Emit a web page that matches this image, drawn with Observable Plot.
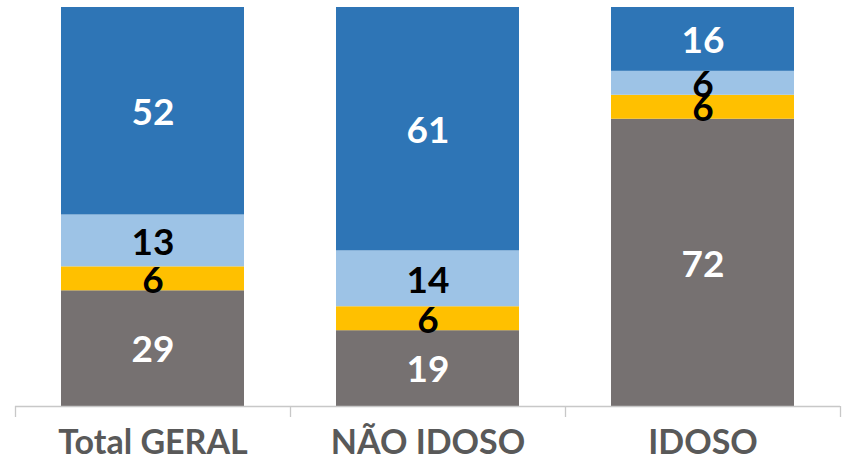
<!DOCTYPE html>
<html>
<head>
<meta charset="utf-8">
<script src="https://cdn.jsdelivr.net/npm/d3@7"></script>
<script src="https://cdn.jsdelivr.net/npm/@observablehq/plot@0.6"></script>
<style>
  html, body { margin: 0; padding: 0; background: #fff; }
  #chart svg { display: block; }
</style>
</head>
<body>
<div id="chart"></div>
<script>
const categories = ["Total GERAL", "NÃO IDOSO", "IDOSO"];
const series = ["s1", "s2", "s3", "s4"]; // bottom to top
const values = {
  s1: [29, 19, 72],
  s2: [6, 6, 6],
  s3: [13, 14, 6],
  s4: [52, 61, 16]
};
const colors = ["#767171", "#FFC000", "#9DC3E6", "#2E75B6"];
const labelColors = ["#ffffff", "#000000", "#000000", "#ffffff"];

const data = [];
series.forEach((s, si) => {
  categories.forEach((c, ci) => {
    data.push({cat: c, series: s, value: values[s][ci]});
  });
});

const W = 846, H = 462;
const mL = 15, mR = 6, mT = 7, mB = 56;
const step = (W - mL - mR) / categories.length;
const tickLen = 11;
const pxPerUnit = (H - mT - mB) / 100;

const chart = Plot.plot({
  width: W,
  height: H,
  marginLeft: mL,
  marginRight: mR,
  marginTop: mT,
  marginBottom: mB,
  style: {fontFamily: "Lato, sans-serif", background: "#fff"},
  x: {domain: categories, paddingInner: 0.335, paddingOuter: 0.1675, label: null},
  y: {domain: [0, 100], axis: null},
  color: {domain: series, range: colors},
  marks: [
    Plot.barY(data, {x: "cat", y: "value", fill: "series", z: "series"}),
    Plot.text(data, Plot.stackY({
      x: "cat", y: "value", z: "series",
      text: d => String(d.value),
      fill: d => labelColors[series.indexOf(d.series)],
      fontSize: 37, fontWeight: "bold", dy: 2
    })),
    Plot.ruleY([0], {stroke: "#C8C8C8", strokeWidth: 1.3}),
    Plot.ruleX(categories, {x: d => d, dx: -step / 2, y1: 0, y2: -tickLen / pxPerUnit, stroke: "#C8C8C8", strokeWidth: 1.3, clip: false}),
    Plot.ruleX(categories.slice(-1), {x: d => d, dx: step / 2, y1: 0, y2: -tickLen / pxPerUnit, stroke: "#C8C8C8", strokeWidth: 1.3, clip: false}),
    Plot.axisX({tickSize: 0, tickPadding: 23, fontSize: 34, fontWeight: "bold", fill: "#595959", label: null})
  ]
});
document.getElementById("chart").appendChild(chart);
</script>
</body>
</html>
